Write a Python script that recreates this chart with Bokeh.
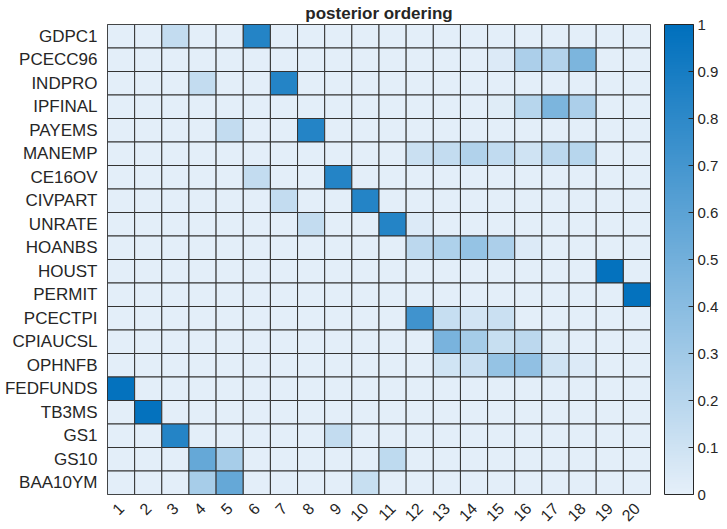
import math
from bokeh.plotting import figure
from bokeh.models import ColumnDataSource, LinearColorMapper, ColorBar, FixedTicker, Title
from bokeh.embed import file_html
from bokeh.resources import INLINE

rows = ["GDPC1", "PCECC96", "INDPRO", "IPFINAL", "PAYEMS", "MANEMP", "CE16OV",
        "CIVPART", "UNRATE", "HOANBS", "HOUST", "PERMIT", "PCECTPI", "CPIAUCSL",
        "OPHNFB", "FEDFUNDS", "TB3MS", "GS1", "GS10", "BAA10YM"]
cols = [str(i) for i in range(1, 21)]
title_text = "posterior ordering"

# non-background cells: (row, column, value); all other cells have a small base value
base_value = 0.01
cells = [
    ("GDPC1", "3", 0.15), ("GDPC1", "6", 0.84),
    ("PCECC96", "15", 0.04), ("PCECC96", "16", 0.25), ("PCECC96", "17", 0.22), ("PCECC96", "18", 0.46),
    ("INDPRO", "4", 0.15), ("INDPRO", "7", 0.84),
    ("IPFINAL", "15", 0.03), ("IPFINAL", "16", 0.20), ("IPFINAL", "17", 0.46), ("IPFINAL", "18", 0.25),
    ("PAYEMS", "5", 0.15), ("PAYEMS", "8", 0.84),
    ("MANEMP", "12", 0.12), ("MANEMP", "13", 0.15), ("MANEMP", "14", 0.23), ("MANEMP", "15", 0.16),
    ("MANEMP", "16", 0.10), ("MANEMP", "17", 0.18), ("MANEMP", "18", 0.20),
    ("CE16OV", "6", 0.15), ("CE16OV", "9", 0.84),
    ("CIVPART", "7", 0.15), ("CIVPART", "10", 0.84),
    ("UNRATE", "8", 0.15), ("UNRATE", "11", 0.84), ("UNRATE", "12", 0.04),
    ("HOANBS", "12", 0.18), ("HOANBS", "13", 0.24), ("HOANBS", "14", 0.35), ("HOANBS", "15", 0.25),
    ("HOANBS", "16", 0.04),
    ("HOUST", "19", 0.98),
    ("PERMIT", "20", 0.98),
    ("PCECTPI", "12", 0.72), ("PCECTPI", "13", 0.14), ("PCECTPI", "14", 0.08), ("PCECTPI", "15", 0.12),
    ("CPIAUCSL", "13", 0.47), ("CPIAUCSL", "14", 0.28), ("CPIAUCSL", "15", 0.13), ("CPIAUCSL", "16", 0.18),
    ("CPIAUCSL", "17", 0.03),
    ("OPHNFB", "13", 0.09), ("OPHNFB", "14", 0.12), ("OPHNFB", "15", 0.35), ("OPHNFB", "16", 0.37),
    ("OPHNFB", "17", 0.10), ("OPHNFB", "18", 0.04),
    ("FEDFUNDS", "1", 0.98),
    ("TB3MS", "2", 0.98),
    ("GS1", "3", 0.84), ("GS1", "9", 0.15),
    ("GS10", "4", 0.56), ("GS10", "5", 0.27), ("GS10", "11", 0.17),
    ("BAA10YM", "4", 0.27), ("BAA10YM", "5", 0.56), ("BAA10YM", "10", 0.13),
]
colorbar_ticks = [0, 0.1, 0.2, 0.3, 0.4, 0.5, 0.6, 0.7, 0.8, 0.9, 1]

lookup = {(r, c): v for r, c, v in cells}
xs, ys, vals = [], [], []
for r in rows:
    for c in cols:
        xs.append(c)
        ys.append(r)
        vals.append(lookup.get((r, c), base_value))
src = ColumnDataSource(dict(x=xs, y=ys, v=vals))

# colormap: light blue -> MATLAB-like blue
lo = (229, 239, 249)
hi = (0, 112, 189)
n = 256
palette = []
for i in range(n):
    t = i / (n - 1)
    rgb = tuple(int(round(lo[k] + (hi[k] - lo[k]) * t)) for k in range(3))
    palette.append("#%02x%02x%02x" % rgb)
mapper = LinearColorMapper(palette=palette, low=0, high=1)

FONT = "Liberation Sans"
TXT = "#262626"
FRAME_W, FRAME_H = 543, 470
p = figure(x_range=cols, y_range=list(reversed(rows)),
           frame_width=FRAME_W, frame_height=FRAME_H,
           output_backend="svg", toolbar_location=None,
           min_border_left=107, min_border_right=77, min_border_top=23, min_border_bottom=30)
p.title = None
p.add_layout(Title(text=title_text, align="center", text_font=FONT,
                   text_font_size="17px", text_font_style="bold", text_color=TXT,
                   standoff=3, offset=0), "above")

p.rect(x="x", y="y", width=1, height=1, source=src,
       fill_color={"field": "v", "transform": mapper},
       line_color="#333333", line_width=1)

p.outline_line_color = TXT
p.grid.visible = False
for ax in (p.xaxis[0], p.yaxis[0]):
    ax.axis_line_color = None
    ax.major_tick_line_color = None
    ax.minor_tick_line_color = None
    ax.major_tick_in = 0
    ax.major_tick_out = 0
    ax.major_label_text_font = FONT
    ax.major_label_text_color = TXT
p.yaxis.major_label_text_font_size = "17px"
p.xaxis.major_label_text_font_size = "16px"
p.xaxis.major_label_orientation = math.pi / 4
p.xaxis.major_label_standoff = 11
p.yaxis.major_label_standoff = 10

cb = ColorBar(color_mapper=mapper, ticker=FixedTicker(ticks=colorbar_ticks),
              width=29, height=FRAME_H, padding=0, margin=0,
              location=(FRAME_W + 14, 0),
              background_fill_color=None, border_line_color=None,
              major_tick_in=5, major_tick_out=0, major_tick_line_color=TXT,
              minor_tick_line_color=None, bar_line_color=TXT,
              major_label_text_font=FONT, major_label_text_font_size="15px",
              major_label_text_color=TXT, label_standoff=4)
p.add_layout(cb, "center")

open("out.html", "w").write(file_html(p, INLINE))
